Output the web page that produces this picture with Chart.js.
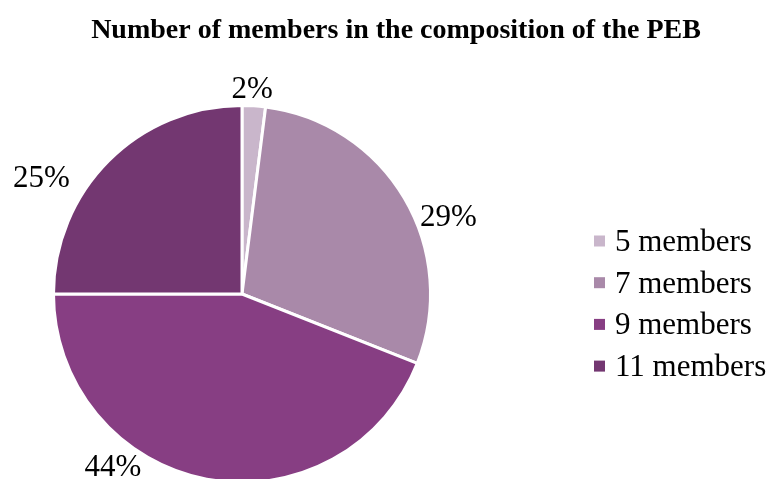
<!DOCTYPE html>
<html>
<head>
<meta charset="utf-8">
<script src="https://cdn.jsdelivr.net/npm/chart.js@4.4.1/dist/chart.umd.min.js"></script>
<style>
  html, body { margin: 0; padding: 0; background: #fff; overflow: hidden; }
  #wrap { width: 770px; height: 484px; }
</style>
</head>
<body>
<div id="wrap"><canvas id="pie-chartcanvas"></canvas></div>
<script>
// chart data
var categories = ["5 members", "7 members", "9 members", "11 members"];
var shares = [2, 29, 44, 25];
var sliceColors = ["#C9B6CB", "#A989A9", "#873E83", "#733771"];
var chartTitle = "Number of members in the composition of the PEB";

var serif = "'Liberation Serif', 'Times New Roman', serif";

// percentage labels sitting just outside the pie
// each one: angle (deg, clockwise from top) and distance as a share of the radius
var labelSpots = [
    { angle: 2.8, dist: 1.098 },
    { angle: 69.1, dist: 1.172 },
    { angle: 217, dist: 1.137 },
    { angle: 300.4, dist: 1.233 }
];

// title spans the full width, so it is drawn here instead of in the padded box
var topTitle = {
    id: "topTitle",
    afterDraw: function(chart) {
        var ctx = chart.ctx;
        ctx.save();
        ctx.font = "bold 28px " + serif;
        ctx.fillStyle = "#000";
        ctx.textAlign = "center";
        ctx.textBaseline = "alphabetic";
        ctx.fillText(chartTitle, 396, 38);
        ctx.restore();
    }
};

var outsideLabels = {
    id: "outsideLabels",
    afterDatasetsDraw: function(chart) {
        var ctx = chart.ctx;
        var arcs = chart.getDatasetMeta(0).data;
        ctx.save();
        ctx.font = "31px " + serif;
        ctx.fillStyle = "#000";
        ctx.textAlign = "center";
        ctx.textBaseline = "alphabetic";
        arcs.forEach(function(arc, i) {
            var spot = labelSpots[i];
            var a = spot.angle * Math.PI / 180;
            var r = arc.outerRadius * spot.dist;
            var x = arc.x + r * Math.sin(a);
            var y = arc.y - r * Math.cos(a);
            ctx.fillText(shares[i] + "%", x, y + 10.5);
        });
        ctx.restore();
    }
};

// square-marker legend on the right
var sideLegend = {
    id: "sideLegend",
    afterDraw: function(chart) {
        var ctx = chart.ctx;
        ctx.save();
        ctx.font = "31px " + serif;
        ctx.textAlign = "left";
        ctx.textBaseline = "alphabetic";
        categories.forEach(function(name, i) {
            var cy = 241 + i * 41.7;
            ctx.fillStyle = sliceColors[i];
            ctx.fillRect(594, cy - 5.5, 11, 11);
            ctx.fillStyle = "#000";
            ctx.fillText(name, 615, cy + 10);
        });
        ctx.restore();
    }
};

var ctx1 = document.getElementById("pie-chartcanvas");

var chart1 = new Chart(ctx1, {
    type: "pie",
    data: {
        labels: categories,
        datasets: [
            {
                label: "PEB members",
                data: shares,
                backgroundColor: sliceColors,
                borderColor: "#FFFFFF",
                borderWidth: 3
            }
        ]
    },
    options: {
        responsive: true,
        maintainAspectRatio: false,
        animation: false,
        layout: {
            padding: { left: 40, right: 326, top: 104, bottom: 0 }
        },
        plugins: {
            title: { display: false },
            legend: { display: false },
            tooltip: { enabled: false }
        }
    },
    plugins: [outsideLabels, sideLegend, topTitle]
});
</script>
</body>
</html>
